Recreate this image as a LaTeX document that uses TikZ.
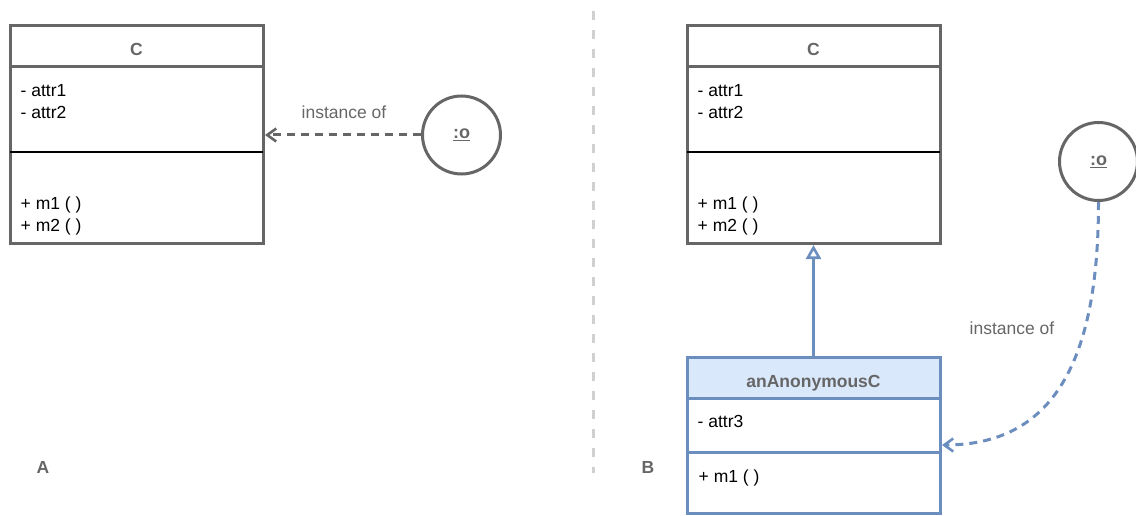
\documentclass[tikz,border=0pt]{standalone}
\usepackage{fontspec}
\setmainfont{Liberation Sans}
\usetikzlibrary{arrows.meta}
\definecolor{cgray}{HTML}{666666}
\definecolor{cblue}{HTML}{6C8EBF}
\definecolor{cfill}{HTML}{DAE8FC}
\definecolor{csep}{HTML}{D0D0D0}
\begin{document}
\begin{tikzpicture}[x=1pt,y=-1pt,
  font=\fontsize{17.5}{22}\selectfont,
  classbox/.style={draw=#1, line width=3pt, inner sep=0pt, outer sep=0pt, minimum width=253pt, anchor=north west},
  title/.style={anchor=base, text=cgray, font=\fontsize{17.5}{22}\selectfont\bfseries, inner sep=0pt},
  member/.style={anchor=base west, text=black, inner sep=0pt},
  objnode/.style={circle, draw=cgray, line width=3pt, minimum size=78pt, inner sep=0pt, fill=white, text=cgray, font=\fontsize{18}{22}\selectfont\bfseries},
  lbl/.style={anchor=base, text=cgray, inner sep=0pt},
  panel/.style={anchor=base, text=cgray, font=\fontsize{17.5}{22}\selectfont\bfseries, inner sep=0pt},
  dashline/.style={dash pattern=on 8pt off 6pt, line width=3pt},
  barb/.style={-{Straight Barb[length=9pt, width=13pt, line width=2.6pt]}, shorten >=2pt}
]
\useasboundingbox (0,0) rectangle (1136,516);

% separator
\coordinate (septop) at (593.5,11);
\coordinate (sepbot) at (593.5,473);
\draw[csep, line width=2.8pt, dash pattern=on 9pt off 10pt] (septop) -- (sepbot);

% ---- Panel A ----
\node[classbox=cgray, minimum height=217pt] (c1) at (10,26) {};
\draw[cgray, line width=3pt] (c1.west |- 0,67) -- (c1.east |- 0,67);
\draw[black, line width=1.5pt] (c1.west |- 0,152) -- (c1.east |- 0,152);
\node[title] (c1t) at (136.5,56) {C};
\node[member] (c1a1) at (20.5,96.5) {- attr1};
\node[member] (c1a2) at (20.5,118.5) {- attr2};
\node[member] (c1m1) at (20.5,209) {+ m1 ( )};
\node[member] (c1m2) at (20.5,231) {+ m2 ( )};

\node[objnode] (o1) at (461.5,135) {\underline{:o}};
\draw[cgray, dashline, barb] (o1.west) -- (c1.east |- o1.west);
\node[lbl] (l1) at (344,119) {instance of};

\node[panel] (pa) at (43,473) {A};

% ---- Panel B ----
\node[classbox=cgray, minimum height=217pt] (c2) at (687,26) {};
\draw[cgray, line width=3pt] (c2.west |- 0,67) -- (c2.east |- 0,67);
\draw[black, line width=1.5pt] (c2.west |- 0,152) -- (c2.east |- 0,152);
\node[title] (c2t) at (813.5,56) {C};
\node[member] (c2a1) at (697.5,96.5) {- attr1};
\node[member] (c2a2) at (697.5,118.5) {- attr2};
\node[member] (c2m1) at (697.5,209) {+ m1 ( )};
\node[member] (c2m2) at (697.5,231) {+ m2 ( )};

\fill[cfill] (687,357) rectangle (940,398);
\node[classbox=cblue, minimum height=156pt] (c3) at (687,357) {};
\draw[cblue, line width=3pt] (c3.west |- 0,398) -- (c3.east |- 0,398);
\draw[cblue, line width=3pt] (c3.west |- 0,452) -- (c3.east |- 0,452);
\node[title] (c3t) at (813.5,387) {anAnonymousC};
\node[member] (c3a1) at (697.5,427.5) {- attr3};
\node[member] (c3m1) at (698.5,482) {+ m1 ( )};

\draw[cblue, line width=3pt, -{Triangle[open, length=14pt, width=15pt, line width=2.6pt]}, shorten >=2pt] (c3.north) -- (c2.south);

\node[objnode] (o2) at (1098.5,161.5) {\underline{:o}};
\coordinate (t2) at (c3.east |- 0,445);
\draw[cblue, dashline, barb] (o2.south) .. controls (1098.5,350) and (1060,445) .. (t2);
\node[lbl] (l2) at (1012,334) {instance of};

\node[panel] (pb) at (648,473) {B};
\end{tikzpicture}
\end{document}
